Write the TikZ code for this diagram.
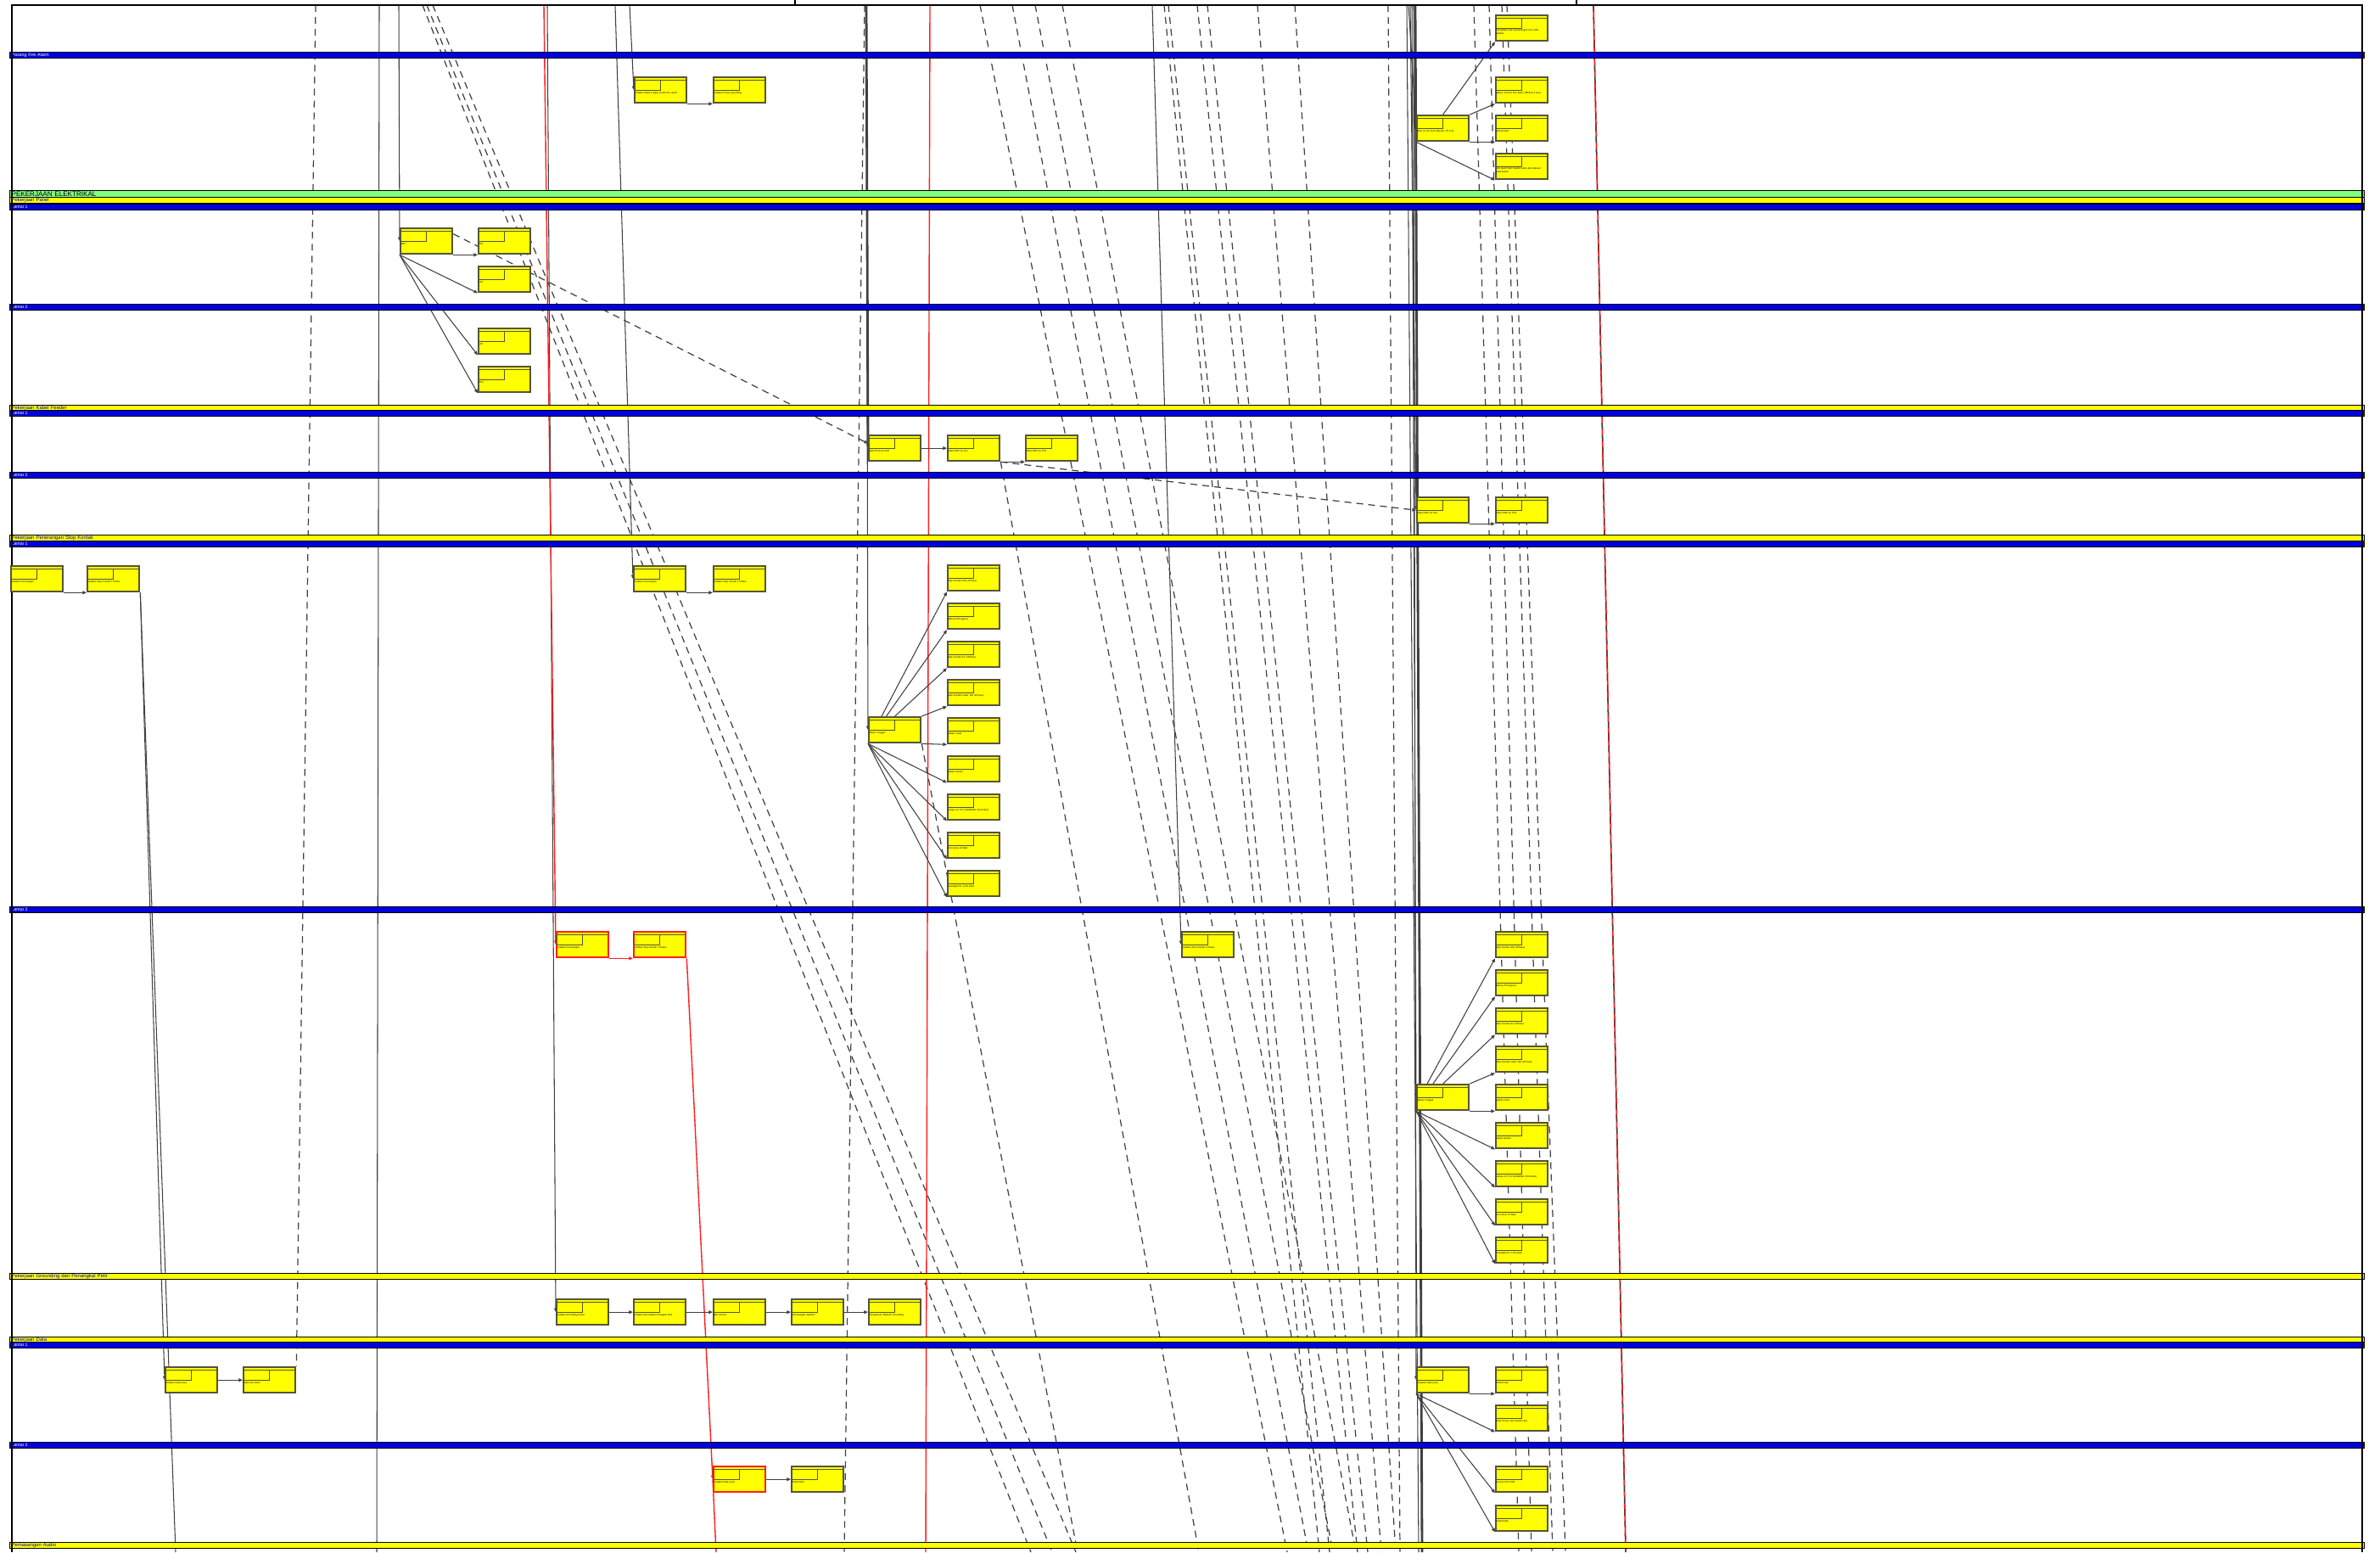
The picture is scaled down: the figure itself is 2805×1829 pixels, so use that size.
\documentclass[tikz,border=0pt]{standalone}
\usepackage{fontspec}
\setmainfont{Liberation Sans}
\usetikzlibrary{arrows.meta}
\definecolor{biru}{HTML}{0000E0}
\definecolor{kuning}{HTML}{FFFF00}
\definecolor{hijau}{HTML}{80FF80}
\definecolor{bingkai}{HTML}{55553A}
\definecolor{kritis}{HTML}{FF2020}
\definecolor{abu}{HTML}{404040}
\pgfdeclarelayer{hubungan}
\pgfdeclarelayer{jalur}
\pgfsetlayers{hubungan,jalur,main}
\tikzset{
  kotak/.style={draw=bingkai, fill=kuning, line width=0.65pt, minimum width=0.61cm,
    minimum height=0.3cm, inner sep=0pt, anchor=north west},
  kotakkritis/.style={kotak, draw=kritis},
  garis/.style={line width=0.3pt, abu},
  panah/.style={garis, -{Triangle[length=1.3pt,width=1.1pt]}},
  panahkritis/.style={panah, draw=kritis, line width=0.4pt},
  putus/.style={line width=0.35pt, black!75, dash pattern=on 2.3pt off 1.7pt},
  pita/.style={draw=black, line width=0.35pt, anchor=north west, inner xsep=0.02cm,
    inner ysep=0pt, text width=27.69cm, align=left},
  pitabiru/.style={pita, fill=biru, text=white, font=\fontsize{1.5}{1.6}\selectfont, minimum height=0.065cm},
  pitakuning/.style={pita, fill=kuning, text=biru, font=\fontsize{1.7}{1.8}\selectfont, minimum height=0.065cm},
  pitahijau/.style={pita, fill=hijau, text=black, font=\fontsize{2.3}{2.4}\selectfont, minimum height=0.08cm}
}
\newcommand{\tugas}[5][kotak]{%
  \node[#1] (#2) at (#3,#4) {};
  \begin{scope}[shift={(#3,#4)}, bingkai, line width=0.15pt]
    \draw (0,4) -- (61,4);
    \draw (0,4) rectangle (31,16);
    \node[anchor=north west, inner sep=0pt, text width=0.58cm, align=left, text=black,
      font=\fontsize{0.8}{1.1}\selectfont] (#2-teks) at (1,17.5) {#5};
  \end{scope}}

\begin{document}
\begin{tikzpicture}[x=0.01cm, y=-0.01cm]
  \useasboundingbox (0,0) rectangle (2805,1829);
  \draw[line width=0.6pt] (14,1829) -- (14,6) -- (2784,6) -- (2784,1829);
  \draw[line width=0.5pt] (937,0) -- (937,6) (1858,0) -- (1858,6);

  % Pasang Fire Alarm
  \tugas{fa1}{747}{90}{Instalasi kabel \& pipa conduit fire alarm}
  \tugas{fa2}{840}{90}{Instalasi Power grounding}
  \tugas{fa3}{1669}{135}{Rate of rise heat detector (T1-6.3)}
  \tugas{fa4}{1762}{17}{Pengadaan dan pemasangan Fire extinguisher}
  \tugas{fa5}{1762}{90}{Master Control Fire Alarm (MCFA) 4 zone}
  \tugas{fa6}{1762}{135}{Annunciator}
  \tugas{fa7}{1762}{180}{Fire alarm bell, location lamp dan Manual push button}

  % Pekerjaan Panel
  \tugas{sdp}{471}{268}{SDP}
  \tugas{pp1}{563}{268}{PP1}
  \tugas{lp1}{563}{313}{LP1}
  \tugas{lp2}{563}{386}{LP2}
  \tugas{pp2}{563}{431}{PP2}

  % Pekerjaan Kabel Feeder
  \tugas{kf1}{1023}{512}{Kabel PLN ke SDP}
  \tugas{kf2}{1116}{512}{Kabel SDP ke LP1}
  \tugas{kf3}{1208}{512}{Kabel SDP ke PP1}
  \tugas{kf4}{1669}{585}{Kabel SDP ke LP2}
  \tugas{kf5}{1762}{585}{Kabel SDP ke PP2}

  % Penerangan Stop Kontak lantai 1
  \tugas{ps1}{12}{666}{Instalasi Penerangan}
  \tugas{ps2}{102}{666}{Instalasi Stop Kontak 1 Phase}
  \tugas{ps3}{746}{666}{Instalasi Penerangan}
  \tugas{ps4}{840}{666}{Instalasi Stop Kontak 1 Phase}
  \tugas{st1}{1023}{844}{Saklar Tunggal}
  \foreach \i/\teks in {1/{Stop Kontak 16A (1Phase)}, 2/{Battery Emergency},
      3/{Stop Kontak AC (1Phase)}, 4/{Stop Kontak Lantai 16A (1Phase)}, 5/{Saklar Tukar},
      6/{Saklar Ganda}, 7/{Lampu LV TL5 2x28W/84x (Prismatic)}, 8/{Dot Lamp 10 Watt},
      9/{Downlight PL 2x18 Watt}}
    \tugas{ta\i}{1116}{620+45*\i}{\teks};

  % Penerangan Stop Kontak lantai 2
  \tugas[kotakkritis]{pl1}{655}{1097}{Instalasi Penerangan}
  \tugas[kotakkritis]{pl2}{746}{1097}{Instalasi Stop Kontak 1 Phase}
  \tugas{pl3}{1392}{1097}{Instalasi Stop Kontak 3 Phase}
  \tugas{st2}{1669}{1277}{Saklar Tunggal}
  \foreach \i/\teks in {1/{Stop Kontak 16A (1Phase)}, 2/{Battery Emergency},
      3/{Stop Kontak AC (1Phase)}, 4/{Stop Kontak Lantai 16A (1Phase)}, 5/{Saklar Tukar},
      6/{Saklar Ganda}, 7/{Lampu LV TL5 2x28W/84x (Prismatic)}, 8/{Dot Lamp 10 Watt},
      9/{Downlight PL 2x18 Watt}}
    \tugas{tb\i}{1762}{1052+45*\i}{\teks};

  % Grounding dan Penangkal Petir
  \tugas{g1}{655}{1530}{Instalasi Grounding Panel}
  \tugas{g2}{746}{1530}{Instalasi Grounding Penangkal Petir}
  \tugas{g3}{840}{1530}{Bak Kontrol}
  \tugas{g4}{932}{1530}{Pemasangan Splitzen}
  \tugas{g5}{1023}{1530}{Pengukuran Tahanan Grounding}

  % Pekerjaan Data
  \tugas{d1}{194}{1610}{Instalasi Data (Lan)}
  \tugas{d2}{286}{1610}{Kabel Up Gard}
  \tugas{d3}{1669}{1610}{Instalasi Data (Lan)}
  \tugas{d4}{1762}{1610}{Outlet Data}
  \tugas{d5}{1762}{1655}{Rack Server dan Switch Hub}
  \tugas[kotakkritis]{d6}{840}{1727}{Instalasi Data (Lan)}
  \tugas{d7}{932}{1727}{Outlet Data}
  \tugas{d8}{1762}{1727}{Access Point Wifi}
  \tugas{d9}{1762}{1773}{Outlet Data}

  \begin{pgfonlayer}{hubungan}
    % garis putus-putus panjang
    \foreach \a/\b in {498/1215, 503/1240, 510/1268, 1019/995, 1155/1517, 1193/1542,
        1220/1571, 1252/1598, 1372/1555, 1377/1567, 1411/1600, 1423/1612, 1482/1628,
        1526/1645, 1636/1650, 1737/1790, 1755/1805, 1770/1830, 1776/1845}
      \draw[putus] (\a,6) -- (\b,1829);
    \draw[putus] (372,6) -- (d2.north east);
    \draw[putus, -{Triangle[length=1.3pt,width=1.1pt]}] (sdp.15) -- (kf1.170);
    \draw[putus, -{Triangle[length=1.3pt,width=1.1pt]}] (kf2.south east) -- (kf4.west);
    \draw[putus] (kf2.south east) -- (1413,1829);
    \draw[putus] (st1.south east) -- (1270,1829);
    % garis lurus
    \draw[garis] (447,6) -- (444,1829);
    \draw[panah] (470,6) -- (sdp.west);
    \draw[panah] (725,6) -- (ps3.west);
    \draw[panah] (742,6) -- (fa1.west);
    \draw[panah] (645,6) -- (g1.west);
    \draw[panah] (ps2.south east) -- (d1.west);
    \draw[garis] (ps2.south east) -- (207,1829);
    \draw[panah, line width=0.8pt] (1021,6) -- (kf1.west);
    \draw[panah] (1021,6) -- (st1.west);
    \draw[panah] (1358,6) -- (pl3.west);
    \draw[panah] (1660,6) -- (fa3.west);
    \draw[panah] (1662,6) -- (kf4.west);
    \draw[panah] (1664,6) -- (st2.west);
    \draw[panah] (1666,6) -- (d3.west);
    \draw[garis] (1658,6) -- (1672,1829);
    \draw[garis, line width=0.8pt] (1668,6) -- (1676,1829);
    % jalur kritis
    \draw[panahkritis] (641,6) -- (pl1.west);
    \draw[panahkritis] (pl1.south east) -- (pl2.south west);
    \draw[panahkritis] (pl2.south east) -- (d6.west);
    \draw[kritis, line width=0.4pt] (d6.west) -- (844,1829);
    \draw[kritis, line width=0.4pt] (1096,6) -- (1091,1829);
    \draw[kritis, line width=0.5pt] (1878,6) -- (1916,1829);
    \draw[putus] (1878,6) -- (1916,1829);
    % hubungan antar tugas
    \draw[panah] (fa1.south east) -- (fa2.south west);
    \draw[panah] (fa3.north) -- (fa4.south west);
    \draw[panah] (fa3.north east) -- (fa5.south west);
    \draw[panah] (fa3.south east) -- (fa6.south west);
    \draw[panah] (fa3.south west) -- (fa7.south west);
    \draw[panah] (sdp.south east) -- (pp1.south west);
    \foreach \t in {lp1, lp2, pp2}
      \draw[panah] (sdp.south west) -- (\t.south west);
    \draw[panah] (kf1.east) -- (kf2.west);
    \draw[panah] (kf2.south east) -- (kf3.south west);
    \draw[panah] (kf4.south east) -- (kf5.south west);
    \draw[panah] (ps1.south east) -- (ps2.south west);
    \draw[panah] (ps3.south east) -- (ps4.south west);
    \foreach \i/\a in {1/134, 2/122, 3/90, 4/north east, 5/south east, 6/south west,
        7/south west, 8/south west, 9/south west}
      \draw[panah] (st1.\a) -- (ta\i.south west);
    \foreach \i/\a in {1/139, 2/126, 3/90, 4/north east, 5/south east, 6/south west,
        7/south west, 8/south west, 9/south west}
      \draw[panah] (st2.\a) -- (tb\i.south west);
    \draw[panah] (g1.east) -- (g2.west);
    \draw[panah] (g2.east) -- (g3.west);
    \draw[panah] (g3.east) -- (g4.west);
    \draw[panah] (g4.east) -- (g5.west);
    \draw[panah] (d1.east) -- (d2.west);
    \draw[panah] (d3.south east) -- (d4.south west);
    \foreach \t in {d5, d8, d9}
      \draw[panah] (d3.south west) -- (\t.south west);
    \draw[panah] (d6.east) -- (d7.west);
  \end{pgfonlayer}

  \begin{pgfonlayer}{jalur}
    \node[pitabiru] (pfa) at (11,61) {Pasang Fire Alarm};
    \node[pitahijau] (pel) at (11,224) {PEKERJAAN ELEKTRIKAL};
    \node[pitakuning] (ppan) at (11,232) {Pekerjaan Panel};
    \node[pitabiru] (ppan1) at (11,240) {Lantai 1};
    \node[pitabiru] (ppan2) at (11,358) {Lantai 2};
    \node[pitakuning] (pkf) at (11,477) {Pekerjaan Kabel Feeder};
    \node[pitabiru] (pkf1) at (11,483) {Lantai 1};
    \node[pitabiru] (pkf2) at (11,556) {Lantai 2};
    \node[pitakuning] (ppsk) at (11,630) {Pekerjaan Penerangan Stop Kontak};
    \node[pitabiru] (ppsk1) at (11,637) {Lantai 1};
    \node[pitabiru] (ppsk2) at (11,1068) {Lantai 2};
    \node[pitakuning] (pgr) at (11,1500) {Pekerjaan Grounding dan Penangkal Petir};
    \node[pitakuning] (pdt) at (11,1575) {Pekerjaan Data};
    \node[pitabiru] (pdt1) at (11,1581) {Lantai 1};
    \node[pitabiru] (pdt2) at (11,1699) {Lantai 2};
    \node[pitakuning] (pau) at (11,1817) {Pemasangan Audio};
  \end{pgfonlayer}
\end{tikzpicture}
\end{document}
